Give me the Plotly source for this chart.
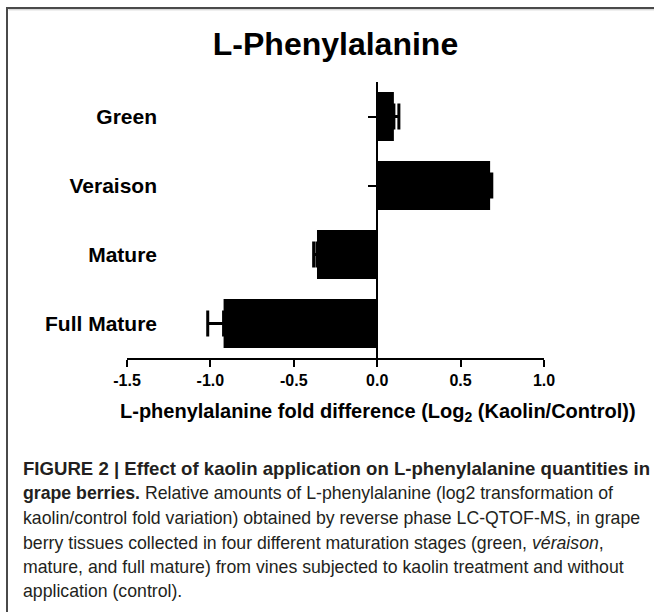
import plotly.graph_objects as go

# ---- data ----
categories = ["Green", "Veraison", "Mature", "Full Mature"]
fold_log2 = [0.10, 0.677, -0.361, -0.921]
sem = [0.03, 0.01, 0.02, 0.095]
x_ticks = [-1.5, -1.0, -0.5, 0.0, 0.5, 1.0]
x_tick_labels = [f"{v:.1f}" for v in x_ticks]

title_text = "L-Phenylalanine"
x_title = "L-phenylalanine fold difference (Log<sub>2</sub> (Kaolin/Control))"
caption_lines = [
    "<b>FIGURE 2 | Effect of kaolin application on L-phenylalanine quantities in</b>",
    "<b>grape berries.</b> Relative amounts of L-phenylalanine (log2 transformation of",
    "kaolin/control fold variation) obtained by reverse phase LC-QTOF-MS, in grape",
    "berry tissues collected in four different maturation stages (green, <i>véraison</i>,",
    "mature, and full mature) from vines subjected to kaolin treatment and without",
    "application (control).",
]

# ---- layout geometry (pixels) ----
W, H = 654, 612
PL, PR, PT, PB = 127, 544, 82, 358


def px(x):
    return (x - PL) / (PR - PL)


def py(y):
    return (PB - y) / (PB - PT)


FONT = "Liberation Sans, Arial, Helvetica, sans-serif"

err_plus = [e if v > 0 else 0 for v, e in zip(fold_log2, sem)]
err_minus = [e if v < 0 else 0 for v, e in zip(fold_log2, sem)]

fig = go.Figure()
fig.add_trace(go.Bar(
    x=fold_log2, y=categories, orientation="h",
    marker=dict(color="black", line=dict(width=0)),
    width=0.71,
    error_x=dict(type="data", symmetric=False, array=err_plus, arrayminus=err_minus,
                 color="black", thickness=3, width=13),
    showlegend=False, hoverinfo="x+y",
))
# invisible trace to register categories on the zero-position axis
fig.add_trace(go.Scatter(
    x=[0] * len(categories), y=categories, yaxis="y2", mode="markers",
    marker=dict(opacity=0, size=1), showlegend=False, hoverinfo="skip",
))

fig.update_layout(
    width=W, height=H,
    margin=dict(l=PL, r=W - PR, t=PT, b=H - PB),
    paper_bgcolor="white", plot_bgcolor="white",
    font=dict(family=FONT, color="black"),
    title=dict(text=title_text, x=px(335.5), xref="paper", xanchor="center",
               y=1 - 44 / H, yref="container", yanchor="middle",
               font=dict(size=32, weight="bold", color="black", family=FONT)),
    xaxis=dict(range=[-1.5, 1.0], tickvals=x_ticks, ticktext=x_tick_labels,
               ticks="outside", ticklen=7, tickwidth=2, tickcolor="black",
               showline=True, linewidth=2, linecolor="black",
               zeroline=False, showgrid=False,
               tickfont=dict(size=16, weight="bold", color="black", family=FONT)),
    yaxis=dict(type="category", categoryorder="array", categoryarray=categories,
               range=[3.5, -0.5], anchor="free", position=px(157),
               showline=False, ticks="", showgrid=False, zeroline=False,
               tickfont=dict(size=21, weight="bold", color="black", family=FONT)),
    yaxis2=dict(type="category", categoryorder="array", categoryarray=categories,
                range=[3.5, -0.5], overlaying="y", anchor="free", position=px(377),
                side="left", showline=True, linewidth=2, linecolor="black",
                ticks="outside", ticklen=8, tickwidth=2, tickcolor="black",
                showticklabels=False, showgrid=False, zeroline=False),
    bargap=0.29,
)

annotations = [dict(
    text=x_title, x=px(378), y=py(412), xref="paper", yref="paper",
    xanchor="center", yanchor="middle", showarrow=False,
    font=dict(size=20, weight="bold", color="black", family=FONT),
)]
line_y = [468, 493, 518, 543, 567, 591]
line_size = [18.6, 17.7, 17.7, 17.7, 17.7, 17.7]
for t, yy, fs in zip(caption_lines, line_y, line_size):
    annotations.append(dict(
        text=t, x=px(21), y=py(yy), xref="paper", yref="paper",
        xanchor="left", yanchor="middle", showarrow=False, align="left",
        font=dict(size=fs, color="#231f20", family=FONT),
    ))
fig.update_layout(annotations=annotations)

shapes = [
    dict(type="line", xref="paper", yref="paper", x0=px(6), x1=px(W + 2), y0=py(8), y1=py(8),
         line=dict(color="#4a4a4a", width=2), layer="above"),
    dict(type="line", xref="paper", yref="paper", x0=px(7), x1=px(7), y0=py(7), y1=py(H + 2),
         line=dict(color="#4a4a4a", width=2), layer="above"),
    dict(type="line", xref="paper", yref="paper", x0=px(8.5), x1=px(W + 2), y0=py(9.8), y1=py(9.8),
         line=dict(color="#c8c8c8", width=1), layer="above"),
]
fig.update_layout(shapes=shapes)

fig.write_html(
    "out.html",
    config={"displayModeBar": False},
    post_script="document.body.style.margin='0px';document.body.style.overflow='hidden';",
)
